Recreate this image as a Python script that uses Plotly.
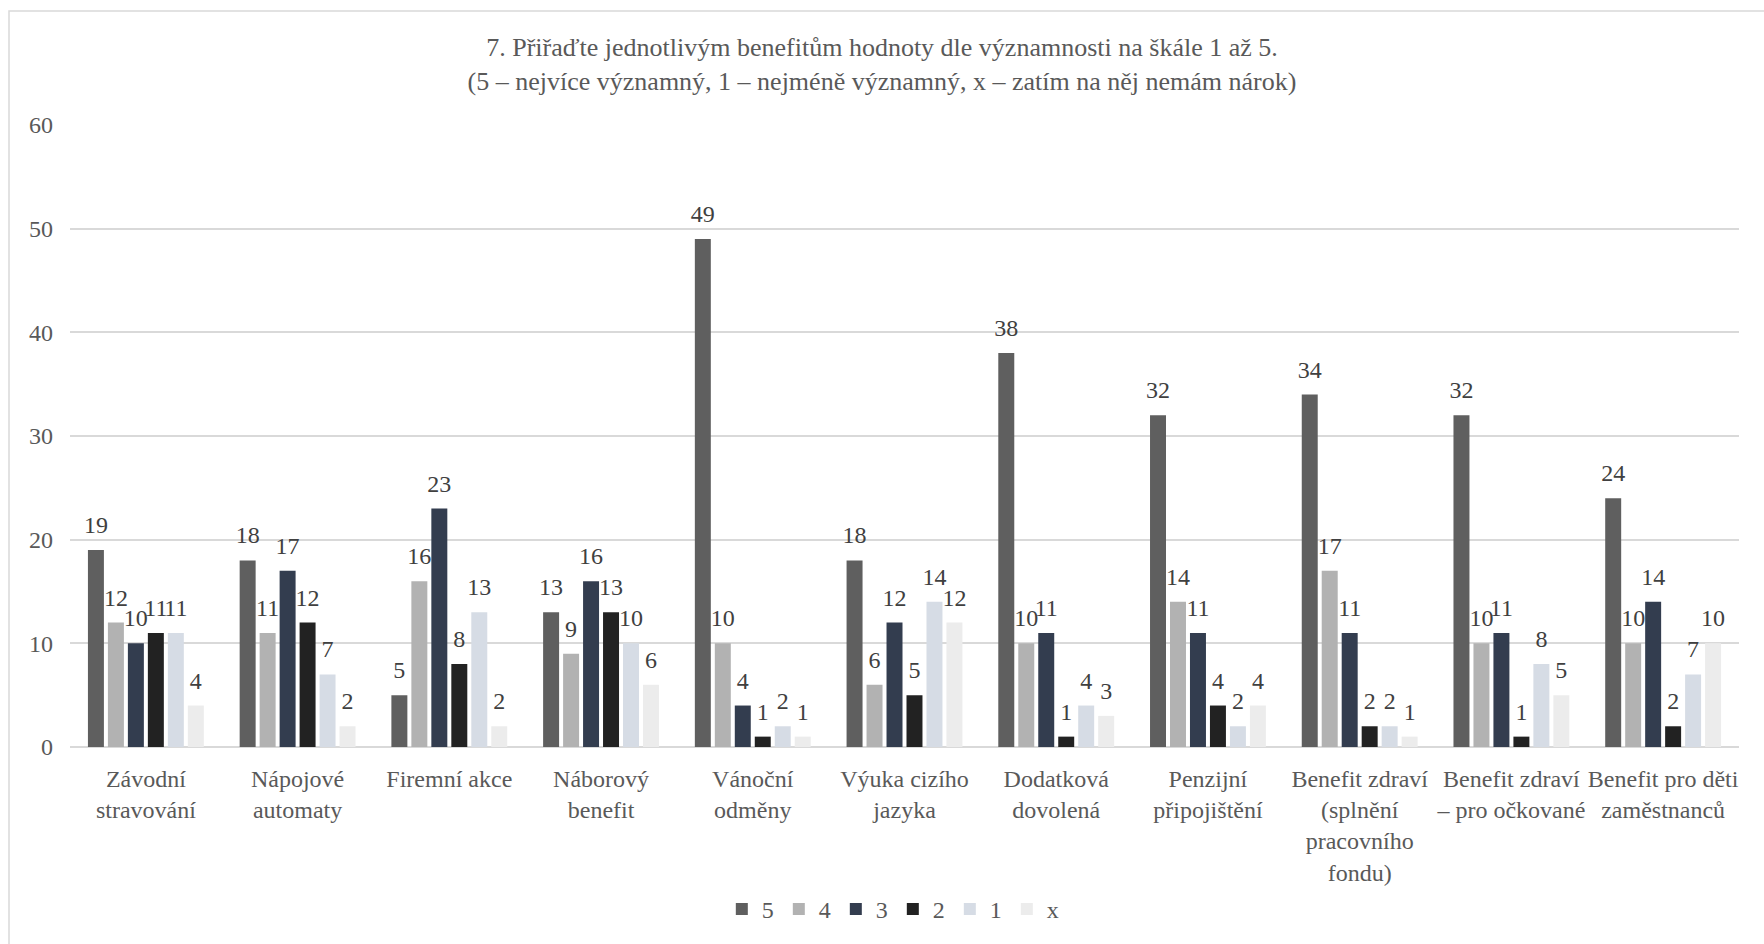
import plotly.graph_objects as go

categories = [
    "Závodní<br>stravování",
    "Nápojové<br>automaty",
    "Firemní akce",
    "Náborový<br>benefit",
    "Vánoční<br>odměny",
    "Výuka cizího<br>jazyka",
    "Dodatková<br>dovolená",
    "Penzijní<br>připojištění",
    "Benefit zdraví<br>(splnění<br>pracovního<br>fondu)",
    "Benefit zdraví<br>– pro očkované",
    "Benefit pro děti<br>zaměstnanců",
]

s5 = [19, 18, 5, 13, 49, 18, 38, 32, 34, 32, 24]
s4 = [12, 11, 16, 9, 10, 6, 10, 14, 17, 10, 10]
s3 = [10, 17, 23, 16, 4, 12, 11, 11, 11, 11, 14]
s2 = [11, 12, 8, 13, 1, 5, 1, 4, 2, 1, 2]
s1 = [11, 7, 13, 10, 2, 14, 4, 2, 2, 8, 7]
sx = [4, 2, 2, 6, 1, 12, 3, 4, 1, 5, 10]

series_names = ["5", "4", "3", "2", "1", "x"]
series_values = [s5, s4, s3, s2, s1, sx]
colors = ["#5f5f5f", "#b2b2b2", "#333d4f", "#222222", "#d6dce5", "#ececec"]

FONT = "Liberation Serif"
TXT = "#595959"

fig = go.Figure()
for name, vals, col in zip(series_names, series_values, colors):
    fig.add_trace(go.Bar(
        x=categories, y=vals, name=name,
        marker=dict(color=col, line=dict(width=0)),
        hoverinfo="x+y+name",
    ))
for name, vals in zip(series_names, series_values):
    fig.add_trace(go.Scatter(
        x=categories, y=vals, name=name,
        mode="markers+text", orientation="v",
        marker=dict(size=16, opacity=0),
        text=[str(v) for v in vals], textposition="top center",
        textfont=dict(family=FONT, size=24, color="#404040"),
        cliponaxis=False, showlegend=False, hoverinfo="skip",
    ))

fig.update_layout(
    width=1764, height=944, autosize=False,
    margin=dict(l=70, r=25, t=125, b=194),
    paper_bgcolor="white", plot_bgcolor="white",
    barmode="group", bargap=0.21, bargroupgap=0.2,
    scattermode="group", scattergap=0.21,
    font=dict(family=FONT, size=24, color=TXT),
    title=dict(
        text="7. Přiřaďte jednotlivým benefitům hodnoty dle významnosti na škále 1 až 5.<br>(5 – nejvíce významný, 1 – nejméně významný, x – zatím na něj nemám nárok)",
        x=0.5, xanchor="center", xref="container",
        y=1 - 56 / 944, yanchor="middle", yref="container",
        font=dict(family=FONT, size=26, color=TXT),
    ),
    legend=dict(
        orientation="h", x=0.493, xanchor="center", y=-0.261, yanchor="middle",
        font=dict(family=FONT, size=24, color=TXT), itemwidth=30,
        traceorder="normal",
    ),
    xaxis=dict(
        showgrid=False, showline=False, ticks="", tickangle=0,
        tickfont=dict(family=FONT, size=24, color=TXT),
        ticklabelstandoff=15,
    ),
    yaxis=dict(
        range=[0, 60], dtick=10, showgrid=True, gridcolor="#d9d9d9", gridwidth=1.5,
        zeroline=True, zerolinecolor="#d9d9d9", zerolinewidth=1.5,
        showline=False, ticks="",
        tickfont=dict(family=FONT, size=24, color=TXT),
        ticklabelstandoff=16,
    ),
    shapes=[dict(
        type="rect", xref="paper", yref="paper",
        x0=(9 - 70) / 1669, x1=(1790 - 70) / 1669,
        y0=(750 - 980) / 625, y1=(750 - 10.5) / 625,
        line=dict(color="#d9d9d9", width=1.5), fillcolor="rgba(0,0,0,0)",
        layer="below",
    )],
)

fig.write_html("out.html")
